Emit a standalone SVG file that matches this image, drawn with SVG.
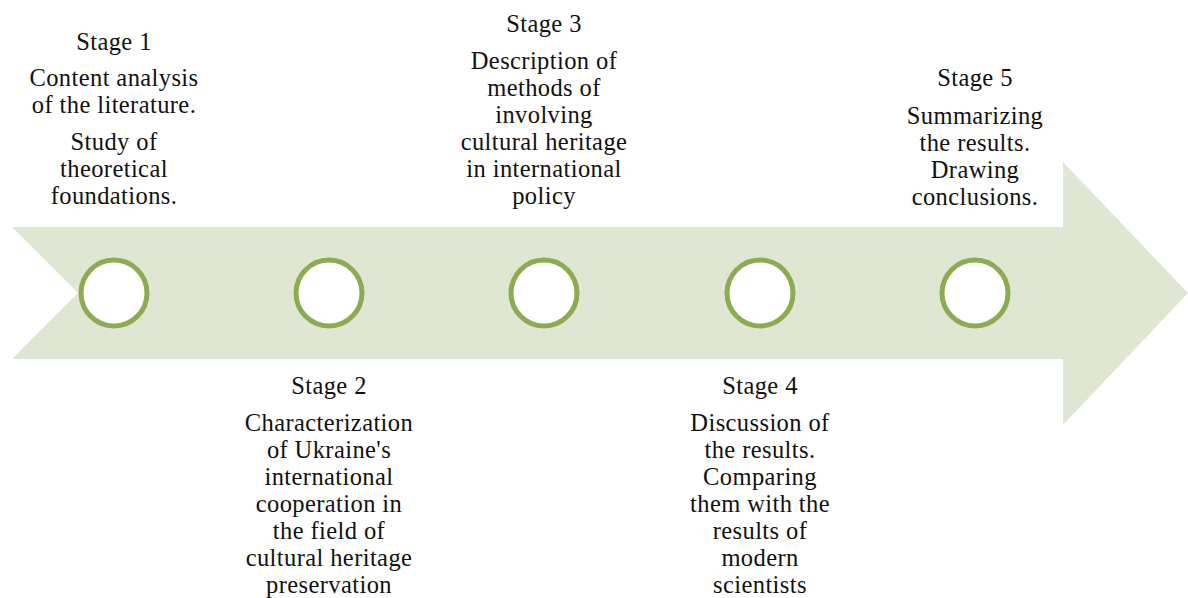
<svg xmlns="http://www.w3.org/2000/svg" width="1188" height="598" viewBox="0 0 1188 598">
  <style>
    .band { fill: #dfe7d3; }
    .dot { fill: #ffffff; stroke: #8dab51; stroke-width: 5; }
    .lbl { font-family: "Liberation Serif", "Times New Roman", serif; font-size: 24.5px; letter-spacing: 0.4px; fill: #111111; text-anchor: middle; }
  </style>

  <!-- timeline arrow -->
  <g id="connectors">
    <polygon class="band" points="12,227 1063,227 1063,162 1188,293 1063,425 1063,359 12,359 78,293"/>
  </g>

  <g id="stage1">
    <circle class="dot" cx="114" cy="293" r="33"/>
    <text class="lbl" x="114" y="50">Stage 1</text>
    <text class="lbl" x="114" y="86">Content analysis</text>
    <text class="lbl" x="114" y="113">of the literature.</text>
    <text class="lbl" x="114" y="150">Study of</text>
    <text class="lbl" x="114" y="177">theoretical</text>
    <text class="lbl" x="114" y="204">foundations.</text>
  </g>

  <g id="stage2">
    <circle class="dot" cx="329" cy="293" r="33"/>
    <text class="lbl" x="329" y="394">Stage 2</text>
    <text class="lbl" x="329" y="431">Characterization</text>
    <text class="lbl" x="329" y="458">of Ukraine's</text>
    <text class="lbl" x="329" y="485">international</text>
    <text class="lbl" x="329" y="512">cooperation in</text>
    <text class="lbl" x="329" y="539">the field of</text>
    <text class="lbl" x="329" y="566">cultural heritage</text>
    <text class="lbl" x="329" y="593">preservation</text>
  </g>

  <g id="stage3">
    <circle class="dot" cx="544" cy="293" r="33"/>
    <text class="lbl" x="544" y="32">Stage 3</text>
    <text class="lbl" x="544" y="69">Description of</text>
    <text class="lbl" x="544" y="96">methods of</text>
    <text class="lbl" x="544" y="123">involving</text>
    <text class="lbl" x="544" y="150">cultural heritage</text>
    <text class="lbl" x="544" y="177">in international</text>
    <text class="lbl" x="544" y="204">policy</text>
  </g>

  <g id="stage4">
    <circle class="dot" cx="760" cy="293" r="33"/>
    <text class="lbl" x="760" y="394">Stage 4</text>
    <text class="lbl" x="760" y="431">Discussion of</text>
    <text class="lbl" x="760" y="458">the results.</text>
    <text class="lbl" x="760" y="485">Comparing</text>
    <text class="lbl" x="760" y="512">them with the</text>
    <text class="lbl" x="760" y="539">results of</text>
    <text class="lbl" x="760" y="566">modern</text>
    <text class="lbl" x="760" y="593">scientists</text>
  </g>

  <g id="stage5">
    <circle class="dot" cx="975" cy="293" r="33"/>
    <text class="lbl" x="975" y="86">Stage 5</text>
    <text class="lbl" x="975" y="124">Summarizing</text>
    <text class="lbl" x="975" y="151">the results.</text>
    <text class="lbl" x="975" y="178">Drawing</text>
    <text class="lbl" x="975" y="205">conclusions.</text>
  </g>
</svg>
